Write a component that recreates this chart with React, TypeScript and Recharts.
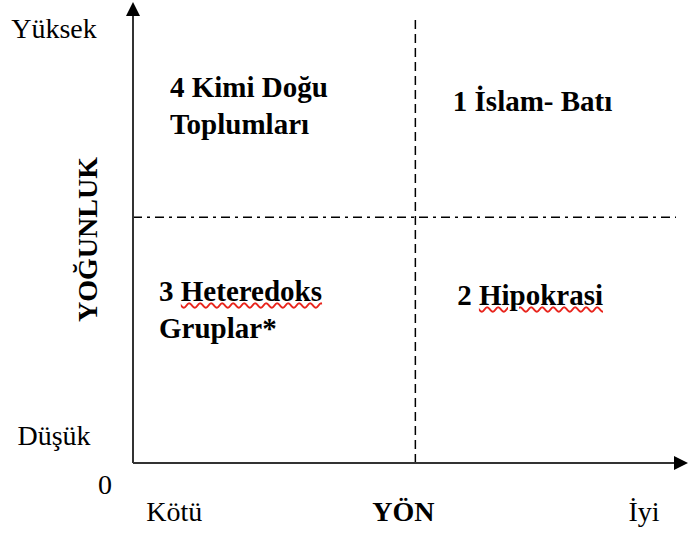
import { ScatterChart, Scatter, XAxis, YAxis, ReferenceLine, ReferenceDot } from "recharts";

// axis tick labels (values on a 0-100 scale)
const xTicks = [7.6, 49.8, 94.1];
const xTickLabels = ["Kötü", "YÖN", "İyi"];
const yTicks = [0, 6, 97];
const yTickLabels = ["0", "Düşük", "Yüksek"];

// quadrant dividers
const dividerX = 52;
const dividerY = 55;

// quadrant labels
const quadrantLines = [["4 Kimi Doğu", "Toplumları"], ["1 İslam- Batı"], ["3 Heteredoks", "Gruplar*"], ["2 Hipokrasi"]];
const quadrantX = [6.8, 58.9, 4.8, 59.7];
const quadrantY = [81.7, 78.5, 36, 35.1];
const flaggedWords = ["Heteredoks", "Hipokrasi"];

const FONT = "'Liberation Serif', 'Times New Roman', serif";
const AXIS_COLOR = "#333";

const data = quadrantLines.map((lines, i) => ({ x: quadrantX[i], y: quadrantY[i], lines }));

function XTick({ x, y, payload }: any) {
  const i = xTicks.indexOf(payload.value);
  const label = xTickLabels[i];
  return (
    <text x={x} y={y + 50} textAnchor="middle" fontFamily={FONT} fontSize={28} fontWeight={label === "YÖN" ? "bold" : "normal"} fill="#000">
      {label}
    </text>
  );
}

function YTick({ x, y, payload }: any) {
  const i = yTicks.indexOf(payload.value);
  const label = yTickLabels[i];
  if (payload.value === 0) {
    return (
      <text x={x - 27} y={y + 31} textAnchor="start" fontFamily={FONT} fontSize={28} fill="#000">
        {label}
      </text>
    );
  }
  return (
    <text x={x - 71} y={y + 9} textAnchor="middle" fontFamily={FONT} fontSize={28} fill="#000">
      {label}
    </text>
  );
}

function renderTitle(props: any) {
  const { viewBox } = props;
  const cx = viewBox.x + 97;
  const cy = viewBox.y + viewBox.height / 2;
  return (
    <text x={cx} y={cy} transform={`rotate(-90 ${cx} ${cy})`} textAnchor="middle" fontFamily={FONT} fontSize={28} fontWeight="bold" fill="#000">
      YOĞUNLUK
    </text>
  );
}

function QuadrantLabel(props: any) {
  const { cx, cy, payload } = props;
  return (
    <foreignObject x={cx} y={cy - 29} width={280} height={92}>
      <div style={{ fontFamily: FONT, fontWeight: "bold", fontSize: 29, lineHeight: "37px", color: "#000", whiteSpace: "nowrap" }}>
        {payload.lines.map((line: string, li: number) => (
          <div key={li}>
            {line.split(" ").map((w, wi) => (
              <span key={wi}>
                {wi > 0 ? " " : ""}
                {flaggedWords.includes(w) ? (
                  <span style={{ textDecorationLine: "underline", textDecorationStyle: "wavy", textDecorationColor: "#e8241c", textDecorationThickness: "1.5px", textUnderlineOffset: "1px" }}>{w}</span>
                ) : (
                  w
                )}
              </span>
            ))}
          </div>
        ))}
      </div>
    </foreignObject>
  );
}

const ArrowUp = ({ cx, cy }: any) => <polygon points={`${cx},${cy - 14} ${cx - 7},${cy} ${cx + 7},${cy}`} fill="#000" />;
const ArrowRight = ({ cx, cy }: any) => <polygon points={`${cx + 12},${cy} ${cx - 2},${cy - 7} ${cx - 2},${cy + 7}`} fill="#000" />;

export default function App() {
  return (
    <div style={{ position: "absolute", left: 0, top: 0, background: "#fff" }}>
      <ScatterChart width={688} height={536} margin={{ top: 16, right: 12, bottom: 0, left: 0 }}>
        <XAxis
          type="number"
          dataKey="x"
          domain={[0, 100]}
          ticks={xTicks}
          tick={<XTick />}
          tickLine={false}
          height={73}
          axisLine={{ stroke: AXIS_COLOR, strokeWidth: 2 }}
        />
        <YAxis
          type="number"
          dataKey="y"
          domain={[0, 100]}
          ticks={yTicks}
          tick={<YTick />}
          tickLine={false}
          width={133}
          axisLine={{ stroke: AXIS_COLOR, strokeWidth: 2 }}
          label={renderTitle}
        />
        <ReferenceLine x={dividerX} stroke="#000" strokeWidth={1.5} strokeDasharray="9 5" />
        <ReferenceLine y={dividerY} stroke="#000" strokeWidth={1.5} strokeDasharray="9 5 3 5" />
        <ReferenceDot x={0} y={100} r={0} ifOverflow="visible" shape={ArrowUp} />
        <ReferenceDot x={100} y={0} r={0} ifOverflow="visible" shape={ArrowRight} />
        <Scatter data={data} isAnimationActive={false} shape={(p: any) => <QuadrantLabel {...p} />} />
      </ScatterChart>
    </div>
  );
}
